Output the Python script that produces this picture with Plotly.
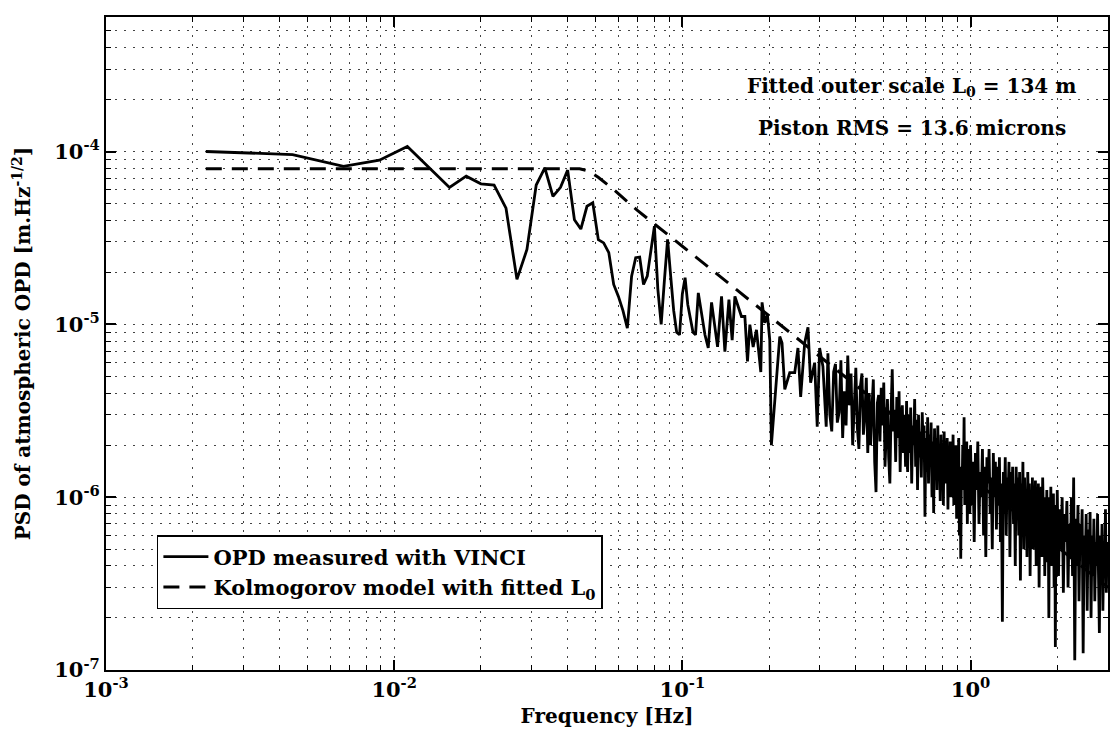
import plotly.graph_objects as go

# ---------------- data (frequency in Hz, PSD in micrometre / sqrt(Hz)) ----------------
freq_low = [0.00222, 0.00444, 0.00667, 0.00889, 0.01111, 0.01333, 0.01556, 0.01778, 0.02, 0.02222,
            0.02444, 0.02667, 0.02889, 0.03111, 0.03333, 0.03556, 0.03778, 0.04, 0.04222, 0.04444,
            0.04667, 0.04889, 0.05111, 0.05333, 0.05556, 0.05778, 0.06, 0.06222, 0.06444, 0.06667,
            0.06889, 0.07111, 0.07333, 0.07556, 0.07778, 0.08, 0.08222, 0.08444, 0.08667, 0.08889,
            0.09111, 0.09333, 0.09556, 0.09778, 0.1, 0.10222, 0.10444, 0.10667, 0.10889, 0.11111]
psd_low_um = [100, 96, 82, 89, 107, 80, 62, 72, 65, 64,
              47, 18.2, 27.1, 64, 80.5, 55, 62, 78, 40.3, 35.6,
              48.2, 50.5, 30.9, 29.6, 26, 17, 14.5, 12, 9.5, 19,
              24.3, 24.5, 17, 19, 26, 37, 16, 10, 18, 31,
              19, 12, 9, 8.7, 15, 18.6, 13, 11, 9, 8.7]

freq_mid = [0.1136, 0.1198, 0.1230, 0.1263, 0.1325, 0.1368, 0.1405, 0.1451, 0.1489, 0.1522,
            0.1604, 0.1648, 0.1683, 0.1715, 0.1761, 0.1808, 0.1872, 0.1891, 0.1932, 0.1973,
            0.2011, 0.2037, 0.2093, 0.2178, 0.2218, 0.2267, 0.2359, 0.2455, 0.2519, 0.2574,
            0.2658, 0.2729, 0.2787, 0.2878, 0.2938, 0.2995, 0.3075, 0.3157]
psd_mid_um = [15.2, 8.7, 7.3, 13.4, 7.4, 14.5, 6.95, 13.9, 8.1, 14.5,
              11.1, 11.1, 6.1, 9.96, 7.4, 9.3, 5.3, 13.4, 10.2, 11.4,
              8.1, 2.0, 3.5, 8.5, 7.8, 4.2, 5.25, 5.25, 7.3, 3.8,
              7.8, 9.6, 4.6, 6.0, 2.56, 7.3, 5.7, 2.56]

freq_c1 = [0.320, 0.325, 0.330, 0.335, 0.340, 0.345, 0.350, 0.355, 0.360, 0.365,
           0.370, 0.375, 0.380, 0.385, 0.390, 0.395, 0.400, 0.405, 0.410, 0.415,
           0.420, 0.425, 0.430, 0.435, 0.440, 0.445, 0.450, 0.455, 0.460, 0.465,
           0.470, 0.475, 0.480, 0.485, 0.490, 0.495, 0.500, 0.505, 0.510, 0.515,
           0.520, 0.525, 0.530, 0.535, 0.540, 0.545, 0.550, 0.555, 0.560, 0.565,
           0.570, 0.575, 0.580, 0.585, 0.590, 0.595]
psd_c1_um = [6.8, 3.0, 2.4, 5.3, 5.9, 2.7, 3.1, 6.2, 2.2, 4.1,
             2.6, 6.6, 3.4, 5.2, 2.0, 3.6, 5.6, 2.5, 1.9, 4.4,
             5.2, 2.3, 3.0, 4.9, 1.8, 4.0, 2.0, 3.3, 4.8, 1.6,
             1.07, 3.5, 3.9, 2.1, 4.3, 2.6, 4.6, 1.5, 2.8, 3.7,
             1.7, 1.2, 3.1, 5.5, 2.4, 3.2, 1.6, 3.8, 2.2, 4.1,
             1.4, 2.9, 3.4, 1.8, 3.0, 1.5]

freq_c2 = [0.600, 0.605, 0.610, 0.615, 0.620, 0.625, 0.630, 0.635, 0.640, 0.645,
           0.650, 0.655, 0.660, 0.665, 0.670, 0.675, 0.680, 0.685, 0.690, 0.695,
           0.700, 0.705, 0.710, 0.715, 0.720, 0.725, 0.730, 0.735, 0.740, 0.745,
           0.750, 0.755, 0.760, 0.765, 0.770, 0.775, 0.780, 0.785, 0.790, 0.795,
           0.800, 0.805, 0.810, 0.815, 0.820, 0.825, 0.830, 0.835, 0.840, 0.845,
           0.850, 0.855, 0.860, 0.865, 0.870, 0.875, 0.880, 0.885, 0.890, 0.895,
           0.900, 0.905, 0.910, 0.915, 0.920, 0.925, 0.930, 0.935, 0.940, 0.945,
           0.950, 0.955, 0.960, 0.965, 0.970, 0.975, 0.980, 0.985, 0.990, 0.995]
psd_c2_um = [3.6, 1.4, 3.0, 1.8, 3.3, 1.2, 2.6, 2.0, 3.7, 1.5,
             2.8, 1.1, 3.0, 1.7, 2.4, 1.3, 3.1, 1.9, 2.6, 0.77,
             2.2, 1.4, 2.9, 1.2, 2.3, 1.6, 2.7, 1.0, 2.1, 0.81,
             2.5, 1.5, 2.2, 1.1, 2.6, 1.3, 1.9, 0.95, 2.3, 1.4,
             2.0, 0.9, 2.4, 1.2, 1.8, 1.5, 2.2, 0.85, 1.9, 1.3,
             2.1, 1.0, 1.7, 1.4, 2.3, 0.9, 1.8, 1.2, 2.0, 0.75,
             1.6, 1.3, 2.2, 0.6, 1.5, 0.44, 1.4, 1.1, 2.0, 1.3,
             2.9, 0.9, 1.7, 1.2, 2.1, 0.7, 1.6, 1.1, 1.9, 0.8]

freq_d1 = [1.00, 1.01, 1.02, 1.03, 1.04, 1.05, 1.06, 1.07, 1.08, 1.09,
           1.10, 1.11, 1.12, 1.13, 1.14, 1.15, 1.16, 1.17, 1.18, 1.19,
           1.20, 1.21, 1.22, 1.23, 1.24, 1.25, 1.26, 1.27, 1.28, 1.29,
           1.30, 1.31, 1.32, 1.33, 1.34, 1.35, 1.36, 1.37, 1.38, 1.39,
           1.40, 1.41, 1.42, 1.43, 1.44, 1.45, 1.46, 1.47, 1.48, 1.49,
           1.50, 1.51, 1.52, 1.53, 1.54, 1.55, 1.56, 1.57, 1.58, 1.59,
           1.60, 1.61, 1.62, 1.63, 1.64, 1.65, 1.66, 1.67, 1.68, 1.69,
           1.70, 1.71, 1.72, 1.73, 1.74, 1.75, 1.76, 1.77, 1.78, 1.79,
           1.80, 1.81, 1.82, 1.83, 1.84, 1.85, 1.86, 1.87, 1.88, 1.89,
           1.90, 1.91, 1.92, 1.93, 1.94, 1.95, 1.96, 1.97, 1.98, 1.99]
psd_d1_um = [2.0, 0.9, 1.6, 0.55, 1.8, 1.1, 2.1, 0.7, 1.4, 1.0,
             1.9, 0.6, 1.5, 0.45, 1.7, 1.2, 1.9, 0.8, 1.3, 0.5,
             1.8, 1.0, 1.6, 0.65, 1.5, 0.9, 1.7, 0.55, 1.2, 0.19,
             1.4, 0.8, 1.7, 0.6, 1.3, 1.0, 1.6, 0.45, 1.4, 0.9,
             1.5, 0.7, 1.2, 0.4, 1.5, 0.95, 1.3, 0.6, 1.4, 0.33,
             1.2, 0.8, 1.6, 0.5, 1.3, 0.75, 1.1, 0.45, 1.4, 0.85,
             1.2, 0.35, 1.0, 0.7, 1.3, 0.5, 1.1, 0.8, 1.25, 0.4,
             0.95, 0.6, 1.2, 0.3, 1.0, 0.7, 1.15, 0.45, 1.3, 0.8,
             1.0, 0.35, 0.9, 0.6, 1.1, 0.42, 0.85, 0.2, 1.0, 0.65,
             1.15, 0.4, 0.9, 0.55, 1.05, 0.3, 0.8, 0.136, 0.9, 0.5]

freq_d2 = [2.00, 2.02, 2.04, 2.06, 2.08, 2.10, 2.12, 2.14, 2.16, 2.18,
           2.20, 2.22, 2.24, 2.26, 2.28, 2.30, 2.32, 2.34, 2.36, 2.38,
           2.40, 2.42, 2.44, 2.46, 2.48, 2.50, 2.52, 2.54, 2.56, 2.58,
           2.60, 2.62, 2.64, 2.66, 2.68, 2.70, 2.72, 2.74, 2.76, 2.78,
           2.80, 2.82, 2.84, 2.86, 2.88, 2.90, 2.92, 2.94, 2.96, 2.98,
           3.00]
psd_d2_um = [1.1, 0.35, 0.85, 0.5, 1.0, 0.28, 0.8, 0.55, 0.95, 0.3,
             0.7, 0.45, 1.0, 0.35, 1.3, 0.114, 0.75, 0.4, 0.9, 0.25,
             0.7, 0.5, 0.85, 0.125, 0.6, 0.4, 0.8, 0.22, 0.65, 0.45,
             0.82, 0.2, 0.6, 0.35, 0.75, 0.25, 0.55, 0.4, 0.8, 0.3,
             0.164, 0.6, 0.35, 0.7, 0.22, 0.5, 0.38, 0.85, 0.28, 0.55,
             0.4]

# Kolmogorov / von Karman model with fitted outer scale
model_freq = [0.00222, 0.044, 0.0473, 0.0512, 0.0577, 0.07, 0.1, 0.2, 0.3, 0.5, 1.0, 2.0, 3.0]
model_psd_um = [79.5, 79.5, 77, 70.7, 60.3, 45.5, 28.3, 11.2, 6.5, 3.3, 1.31, 0.52, 0.30]

x_tick_vals = [1e-3, 1e-2, 1e-1, 1]
x_tick_text = ["10<sup>-3</sup>", "10<sup>-2</sup>", "10<sup>-1</sup>", "10<sup>0</sup>"]
y_tick_vals = [1e-7, 1e-6, 1e-5, 1e-4]
y_tick_text = ["10<sup>-7</sup>", "10<sup>-6</sup>", "10<sup>-5</sup>", "10<sup>-4</sup>"]

# ---------------- assemble ----------------
UM = 1e-6
freq_meas = freq_low + freq_mid + freq_c1 + freq_c2 + freq_d1 + freq_d2
psd_meas = [v * UM for v in (psd_low_um + psd_mid_um + psd_c1_um + psd_c2_um + psd_d1_um + psd_d2_um)]
model_psd = [v * UM for v in model_psd_um]

FONT = "DejaVu Serif"

x_minor = [m * d for d in (1e-3, 1e-2, 1e-1, 1) for m in range(2, 10) if m * d <= 3.0]
y_minor = [m * d for d in (1e-7, 1e-6, 1e-5, 1e-4) for m in range(2, 10) if m * d <= 6e-4]

fig = go.Figure()
fig.add_trace(go.Scatter(
    x=freq_meas, y=psd_meas, mode="lines",
    line=dict(color="black", width=2.8),
    name="OPD measured with VINCI"))
fig.add_trace(go.Scatter(
    x=model_freq, y=model_psd, mode="lines",
    line=dict(color="black", width=3, dash="16px,10px"),
    name="Kolmogorov model with fitted L<sub>0</sub>"))

grid_dash = "2px,7px"
axis_common = dict(
    type="log", showline=True, linecolor="black", linewidth=2, mirror="ticks",
    ticks="inside", ticklen=10, tickwidth=1.5, tickcolor="black",
    showgrid=True, gridcolor="#444444", gridwidth=1, griddash=grid_dash,
    zeroline=False,
    tickfont=dict(family=FONT, size=21, color="black", weight="bold"),
)

fig.update_xaxes(
    **axis_common,
    range=[-3, 0.47712],
    tickmode="array", tickvals=x_tick_vals, ticktext=x_tick_text,
    minor=dict(tickmode="array", tickvals=x_minor, ticks="inside", ticklen=5,
               tickwidth=1, tickcolor="black", showgrid=True,
               gridcolor="#444444", gridwidth=1, griddash=grid_dash),
    title=dict(text="Frequency [Hz]", standoff=8,
               font=dict(family=FONT, size=20, color="black", weight="bold")),
)
fig.update_yaxes(
    **axis_common,
    range=[-7, -3.2218],
    tickmode="array", tickvals=y_tick_vals, ticktext=y_tick_text,
    minor=dict(tickmode="array", tickvals=y_minor, ticks="inside", ticklen=5,
               tickwidth=1, tickcolor="black", showgrid=True,
               gridcolor="#444444", gridwidth=1, griddash=grid_dash),
    title=dict(text="PSD of atmospheric OPD [m.Hz<sup>-1/2</sup>]", standoff=18,
               font=dict(family=FONT, size=20, color="black", weight="bold")),
)

fig.add_annotation(
    x=0.804, y=0.893, xref="paper", yref="paper", showarrow=False,
    xanchor="center", yanchor="middle",
    text="Fitted outer scale L<sub>0</sub> = 134 m",
    font=dict(family=FONT, size=20, color="black", weight="bold"))
fig.add_annotation(
    x=0.804, y=0.830, xref="paper", yref="paper", showarrow=False,
    xanchor="center", yanchor="middle",
    text="Piston RMS = 13.6 microns",
    font=dict(family=FONT, size=20, color="black", weight="bold"))

fig.update_layout(
    width=1110, height=733,
    margin=dict(l=106, r=0, t=17, b=63),
    paper_bgcolor="white", plot_bgcolor="white",
    showlegend=True,
    legend=dict(x=0.0508, y=0.2067, xanchor="left", yanchor="top",
                bgcolor="white", bordercolor="black", borderwidth=1.5,
                font=dict(family=FONT, size=21, color="black", weight="bold"),
                tracegroupgap=0, itemwidth=45),
)

fig.write_html("out.html")
